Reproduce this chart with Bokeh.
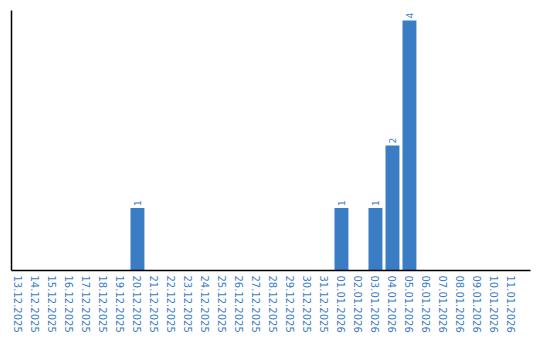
import math
from bokeh.plotting import figure
from bokeh.models import Range1d, FixedTicker, ColumnDataSource
from bokeh.core.properties import value
from bokeh.embed import file_html
from bokeh.resources import INLINE

dates = ["13.12.2025", "14.12.2025", "15.12.2025", "16.12.2025", "17.12.2025",
         "18.12.2025", "19.12.2025", "20.12.2025", "21.12.2025", "22.12.2025",
         "23.12.2025", "24.12.2025", "25.12.2025", "26.12.2025", "27.12.2025",
         "28.12.2025", "29.12.2025", "30.12.2025", "31.12.2025", "01.01.2026",
         "02.01.2026", "03.01.2026", "04.01.2026", "05.01.2026", "06.01.2026",
         "07.01.2026", "08.01.2026", "09.01.2026", "10.01.2026", "11.01.2026"]
counts = [0, 0, 0, 0, 0, 0, 0, 1, 0, 0,
          0, 0, 0, 0, 0, 0, 0, 0, 0, 1,
          0, 1, 2, 4, 0, 0, 0, 0, 0, 0]

BLUE = "#3b7dc4"
idx = list(range(len(dates)))
nz = [i for i in idx if counts[i] > 0]
src = ColumnDataSource(dict(x=idx, top=counts))
lab = ColumnDataSource(dict(x=nz, y=[counts[i] for i in nz], t=[str(counts[i]) for i in nz]))

p = figure(width=540, height=340, output_backend="svg", toolbar_location=None,
           x_range=Range1d(-0.41, 30.12), y_range=Range1d(0, 4.16))
p.min_border_left = 11
p.min_border_right = 10
p.min_border_top = 10
p.min_border_bottom = 70
p.outline_line_color = None
p.background_fill_color = "white"
p.border_fill_color = "white"
p.grid.visible = False

p.vbar(x="x", top="top", width=0.82, source=src, fill_color=BLUE, line_color=None)
p.text(x="x", y="y", text="t", source=lab, angle=math.pi / 2, y_offset=-2,
       text_align="left", text_baseline="middle", text_color=BLUE,
       text_font=value("DejaVu Sans"), text_font_size="9px")

xa = p.xaxis[0]
xa.ticker = FixedTicker(ticks=idx)
xa.major_label_overrides = {i: d for i, d in zip(idx, dates)}
xa.major_label_orientation = "vertical"
xa.major_label_text_color = BLUE
xa.major_label_text_font = "DejaVu Sans"
xa.major_label_text_font_size = "10px"
xa.major_tick_line_color = None
xa.minor_tick_line_color = None
xa.major_tick_out = 0
xa.major_label_standoff = 5
xa.axis_line_color = "black"
xa.axis_line_width = 1.5

ya = p.yaxis[0]
ya.ticker = FixedTicker(ticks=[])
ya.major_label_text_font_size = "0px"
ya.major_tick_line_color = None
ya.minor_tick_line_color = None
ya.major_tick_out = 0
ya.major_label_standoff = 0
ya.axis_line_color = "black"
ya.axis_line_width = 1.5

open("out.html", "w").write(file_html(p, INLINE))
